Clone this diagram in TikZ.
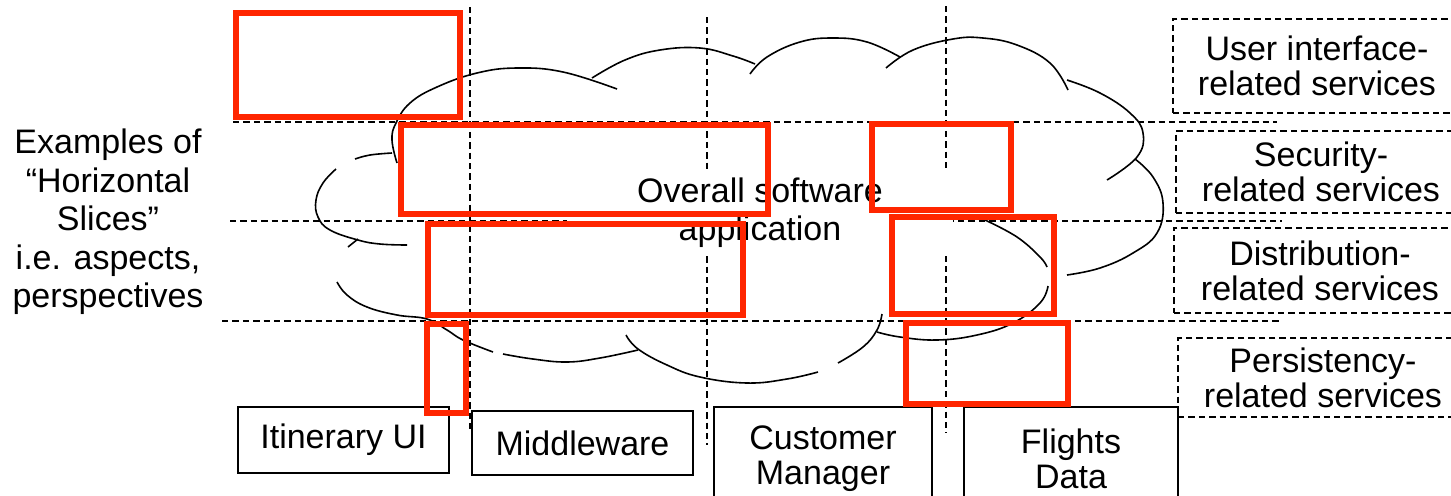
\documentclass[tikz,border=0pt]{standalone}
\usepackage{fontspec}
\setmainfont{Liberation Sans}
\usetikzlibrary{positioning}
\definecolor{aspectred}{RGB}{255,38,0}
\tikzset{font=\fontsize{17}{17.5}\selectfont}
\tikzset{every node/.append style={align=center, inner sep=0pt}}
\tikzset{slice/.style={dash pattern=on 3.2pt off 2pt, line width=0.9pt}}
\tikzset{cloudline/.style={line width=0.8pt}}
\tikzset{servicebox/.style={draw, slice}}
\tikzset{module/.style={draw, line width=0.9pt}}
\tikzset{aspect/.style={draw=aspectred, line width=2.8pt}}

\begin{document}
\begin{tikzpicture}[x=0.5pt, y=-0.5pt]
\useasboundingbox (0,0) rectangle (1451,495);
\clip (0,0) rectangle (1451,495);

% horizontal slices and module columns
\foreach \y/\a/\b in {122/233/1277, 221/230/1282, 321/222/1280}
  \draw[slice] (\a,\y) -- (\b,\y);
\foreach \x/\a/\b in {470/7/433, 707/17/445, 946/6/433}
  \draw[slice] (\x,\a) -- (\x,\b);

% the cloud, arc by arc
\draw[cloudline] plot[smooth, tension=0.7] coordinates{(397,163) (392,140) (396,123) (410,103) (437,87) (477,73) (517,68) (563,72) (617,89)};
\draw[cloudline] plot[smooth, tension=0.7] coordinates{(592,78) (625,60) (660,50) (700,48) (733,56) (755,64)};
\draw[cloudline] plot[smooth, tension=0.7] coordinates{(750,74) (767,57) (800,42) (833,38) (867,42) (900,57)};
\draw[cloudline] plot[smooth, tension=0.7] coordinates{(886,68) (913,50) (953,39) (983,38) (1017,45) (1050,63) (1068,90)};
\draw[cloudline] plot[smooth, tension=0.7] coordinates{(1067,80) (1100,93) (1130,113) (1143,133) (1137,157) (1107,180)};
\draw[cloudline] plot[smooth, tension=0.7] coordinates{(1135,159) (1153,177) (1163,203) (1157,233) (1133,253) (1100,268) (1067,275)};
\draw[cloudline] plot[smooth, tension=0.7] coordinates{(985,220) (1017,237) (1040,257) (1047,267)};
\draw[cloudline] plot[smooth, tension=0.7] coordinates{(1048,286) (1040,303) (1013,323) (977,335) (937,340) (900,337) (877,332)};
\draw[cloudline] plot[smooth, tension=0.7] coordinates{(882,314) (877,330) (863,347) (838,363)};
\draw[cloudline] plot[smooth, tension=0.7] coordinates{(626,335) (638,349) (667,365) (700,377) (747,383) (787,379) (818,372)};
\draw[cloudline] plot[smooth, tension=0.7] coordinates{(337,282) (347,295) (367,307) (397,315) (427,319) (447,330) (463,340) (493,352)};
\draw[cloudline] plot[smooth, tension=0.7] coordinates{(503,354) (533,359) (567,362) (600,358) (638,350)};
\draw[cloudline] plot[smooth, tension=0.7] coordinates{(336,169) (323,183) (316,200) (318,217) (330,230) (358,240) (380,244) (407,245)};
\draw[cloudline] plot[smooth, tension=0.7] coordinates{(355,159) (370,155) (392,153)};
\draw[cloudline] (348,247) -- (358,239);

\node[fill=white, minimum width=193pt, minimum height=43pt, font=\fontsize{17}{19}\selectfont] (app) at (760,213) {Overall software\\application};

\node[font=\fontsize{17}{19.25}\selectfont] (slices) at (108,222) {Examples of\\“Horizontal\\Slices”\\i.e. aspects,\\perspectives};

% service labels on the right
\node[servicebox, minimum width=144pt, minimum height=47pt] (uisvc) at (1317,66) {User interface-\\related services};
\node[servicebox, minimum width=145pt, minimum height=41pt] (secsvc) at (1321,172) {Security-\\related services};
\node[servicebox, minimum width=146pt, minimum height=42.5pt] (distsvc) at (1320,270.5) {Distribution-\\related services};
\node[servicebox, minimum width=145pt, minimum height=39.5pt] (persvc) at (1323,377.5) {Persistency-\\related services};

% modules
\node[module, minimum width=105.5pt, minimum height=33pt] (itin) at (343.5,440) {Itinerary UI};
\node[module, minimum width=110.5pt, minimum height=32pt] (mw) at (582.5,443) {Middleware};
\node[module, minimum width=109pt, minimum height=52pt] (custmgr) at (823,459) {Customer\\Manager};
\node[module, minimum width=107pt, minimum height=52pt] (flights) at (1071,459) {Flights\\Data};

% aspects cutting across the modules
\foreach \l/\t/\r/\b in {236/13/460/117, 401/125/768/214, 428/224/743/315, 427/324/466/413,
                         872/124/1011/210, 892/217/1054/314, 906/323/1068/404}
  \draw[aspect] (\l,\t) rectangle (\r,\b);
\end{tikzpicture}
\end{document}
